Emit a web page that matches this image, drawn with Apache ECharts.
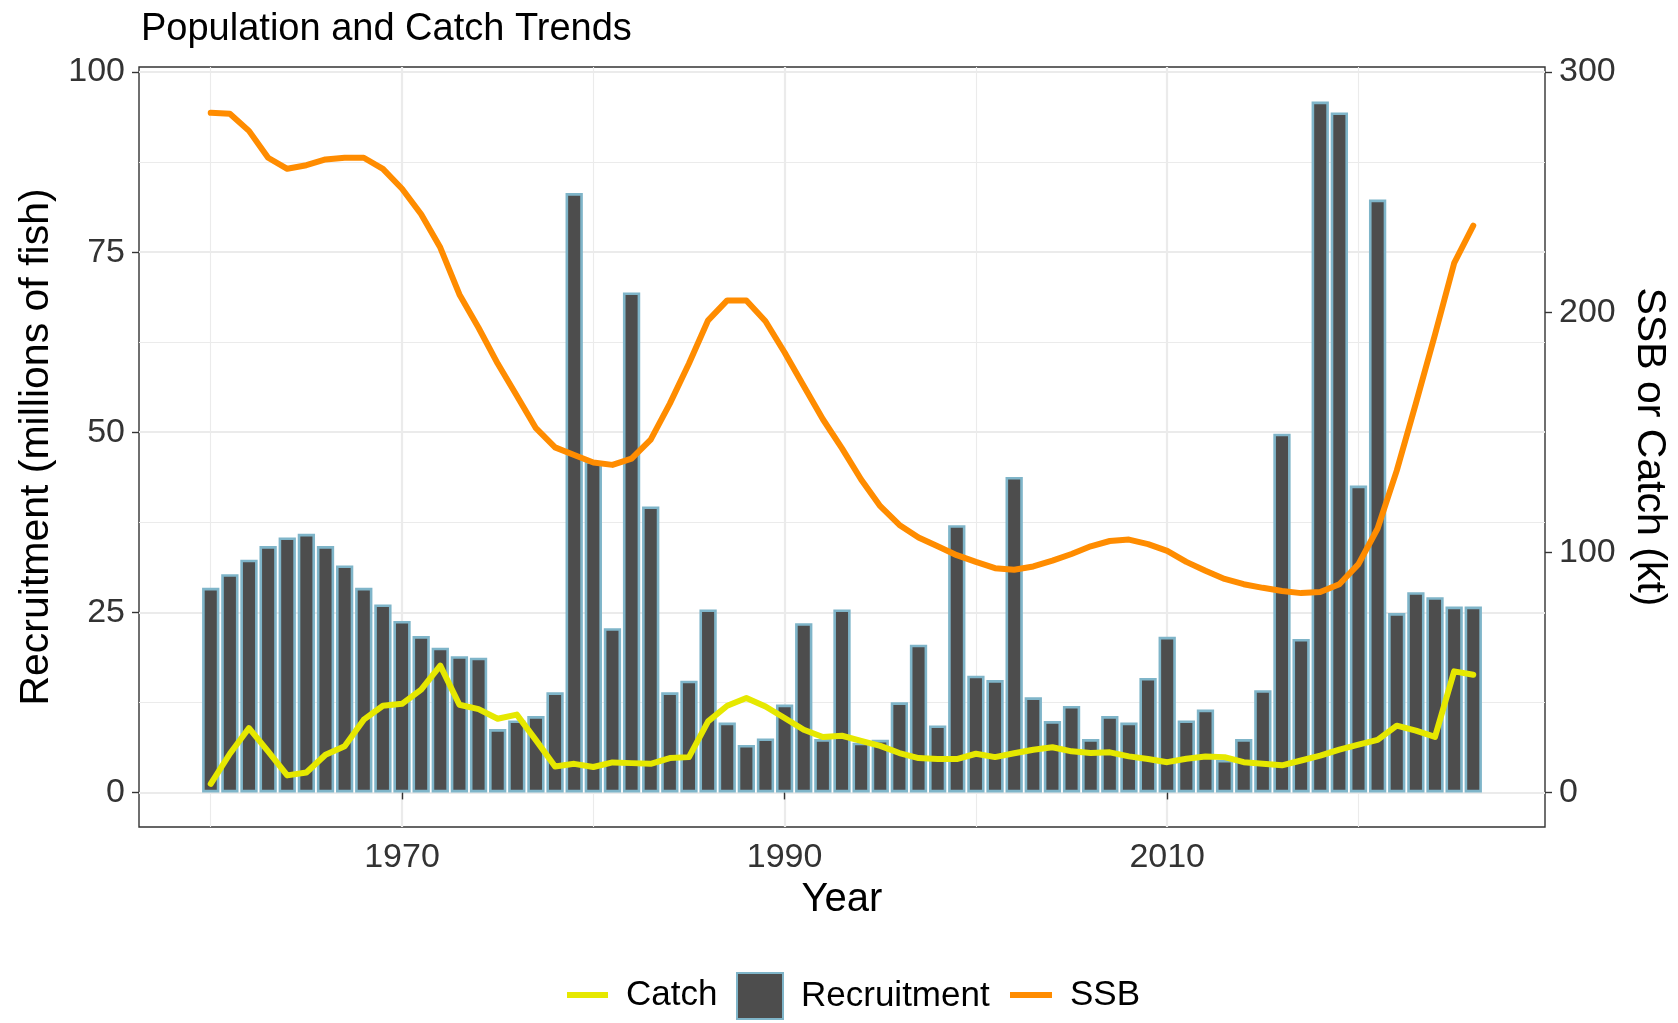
<!DOCTYPE html>
<html>
<head>
<meta charset="utf-8">
<title>Population and Catch Trends</title>
<script src="https://cdn.jsdelivr.net/npm/echarts@6.0.0/dist/echarts.min.js"></script>
<style>
    html, body { margin: 0; padding: 0; background: #fff; }
    #chart { width: 1678px; height: 1023px; }
</style>
</head>
<body>
<div id="chart"></div>
<script>
var years = [1960, 1961, 1962, 1963, 1964, 1965, 1966, 1967, 1968, 1969,
             1970, 1971, 1972, 1973, 1974, 1975, 1976, 1977, 1978, 1979,
             1980, 1981, 1982, 1983, 1984, 1985, 1986, 1987, 1988, 1989,
             1990, 1991, 1992, 1993, 1994, 1995, 1996, 1997, 1998, 1999,
             2000, 2001, 2002, 2003, 2004, 2005, 2006, 2007, 2008, 2009,
             2010, 2011, 2012, 2013, 2014, 2015, 2016, 2017, 2018, 2019,
             2020, 2021, 2022, 2023, 2024, 2025, 2026];

// millions of fish
var recruitment = [28.4, 30.3, 32.3, 34.2, 35.4, 35.9, 34.2, 31.5, 28.4, 26.1,
                   23.8, 21.7, 20.1, 18.9, 18.7, 8.8, 10.0, 10.6, 13.9, 83.2,
                   46.0, 22.8, 69.4, 39.7, 13.9, 15.5, 25.4, 9.7, 6.6, 7.5,
                   12.2, 23.5, 7.4, 25.4, 6.9, 7.3, 12.5, 20.5, 9.3, 37.1,
                   16.2, 15.6, 43.8, 13.2, 9.9, 12.0, 7.4, 10.6, 9.7, 15.9,
                   21.6, 10.0, 11.5, 4.5, 7.4, 14.2, 49.8, 21.3, 95.9, 94.4,
                   42.6, 82.3, 24.9, 27.8, 27.1, 25.8, 25.8];

// kt
var catchKt = [3.6, 16.1, 26.8, 17.1, 7.1, 8.3, 15.7, 19.2, 30.3, 36.1,
               36.9, 42.8, 52.8, 36.5, 34.7, 30.7, 32.4, 21.8, 10.8, 11.9,
               10.6, 12.5, 12.2, 11.9, 14.3, 14.7, 29.6, 36.1, 39.3, 35.8,
               31.0, 26.1, 23.1, 23.6, 21.5, 19.4, 16.4, 14.3, 13.9, 13.9,
               16.1, 14.7, 16.3, 17.8, 18.8, 17.1, 16.4, 16.7, 15.0, 13.9,
               12.6, 14.0, 15.0, 14.7, 12.6, 11.9, 11.3, 13.3, 15.3, 17.8,
               19.9, 21.9, 27.8, 25.7, 23.1, 50.4, 49.0];

// kt
var ssb = [283.0, 282.6, 275.5, 264.3, 259.7, 261.2, 263.6, 264.3, 264.3, 259.7,
           251.4, 240.8, 226.9, 207.4, 193.5, 178.6, 165.2, 151.7, 143.7, 140.5,
           137.4, 136.4, 139.0, 146.9, 161.9, 178.6, 196.6, 204.9, 204.9, 196.2,
           183.2, 169.3, 155.4, 143.3, 130.3, 119.2, 111.4, 106.2, 102.5, 98.8,
           96.0, 93.4, 92.7, 94.1, 96.5, 99.3, 102.5, 104.7, 105.3, 103.4,
           100.6, 96.0, 92.3, 88.9, 86.7, 85.2, 83.9, 83.0, 83.5, 86.7,
           95.1, 109.9, 134.0, 162.0, 190.7, 220.4, 236.0];

var xTicks = [1970, 1990, 2010];
var xMinorTicks = [1960, 1980, 2000, 2020];
var yTicks = [0, 25, 50, 75, 100];
var yMinorTicks = [12.5, 37.5, 62.5, 87.5];
var ktTicks = [0, 100, 200, 300];

var font = '"Liberation Sans", Arial, Helvetica, sans-serif';
var gridColor = '#EBEBEB';
var inkColor = '#333333';
var barFill = '#4D4D4D';
var barEdge = '#7FB5C9';
var ssbColor = '#FF8C00';
var catchColor = '#E6E800';

function pairs(values) {
    return years.map(function (y, i) { return [y, values[i]]; });
}

// hidden axis that only draws the thin minor grid lines
function minorAxis(min, max, ticks, pos) {
    return {
        type: 'value', min: min, max: max, position: pos,
        axisLine: { show: false },
        axisTick: { show: false, customValues: ticks },
        axisLabel: { show: false, customValues: ticks },
        splitLine: { show: true, lineStyle: { color: gridColor, width: 1.1 } }
    };
}

// one legend per key, ggplot draws lines and a filled box
// same line height everywhere so the keys share one centre line
function legendKey(name, left, w, h) {
    return {
        left: left,
        top: 967,
        itemWidth: w,
        itemHeight: h,
        icon: 'rect',
        textStyle: {
            fontFamily: font, fontSize: 35, color: '#000',
            lineHeight: 46, height: 46, padding: [0, 0, 0, 13]
        },
        data: [name]
    };
}

var myChart = echarts.init(document.getElementById('chart'));

var option = {
    backgroundColor: '#ffffff',
    animation: false,
    textStyle: { fontFamily: font },
    title: {
        text: 'Population and Catch Trends',
        left: 136,
        top: 6,
        textStyle: { fontFamily: font, fontSize: 38, fontWeight: 'normal', color: '#000' }
    },
    legend: [
        legendKey('Catch', 562, 41, 6),
        legendKey('Recruitment', 731, 46, 46),
        legendKey('SSB', 1005, 42, 6)
    ],
    grid: {
        left: 139,
        right: 130,
        top: 67,
        bottom: 196,
        show: true,
        borderColor: inkColor,
        borderWidth: 1.4,
        backgroundColor: '#fff'
    },
    xAxis: [
        {
            type: 'value', min: 1956.25, max: 2029.75, position: 'bottom',
            name: 'Year', nameLocation: 'middle', nameGap: 52,
            nameTextStyle: { fontFamily: font, fontSize: 40, color: '#000' },
            axisLine: { show: false },
            axisTick: { show: true, customValues: xTicks, length: 7, lineStyle: { color: inkColor, width: 1.4 } },
            axisLabel: {
                customValues: xTicks, margin: 14, fontSize: 34, color: inkColor, fontFamily: font,
                formatter: function (v) { return String(v); }
            },
            splitLine: { show: true, lineStyle: { color: gridColor, width: 2.2 } }
        },
        minorAxis(1956.25, 2029.75, xMinorTicks, 'bottom')
    ],
    yAxis: [
        {
            type: 'value', min: -4.8, max: 100.7, position: 'left',
            name: 'Recruitment (millions of fish)', nameLocation: 'middle', nameGap: 81, nameRotate: 90,
            nameTextStyle: { fontFamily: font, fontSize: 41, color: '#000' },
            axisLine: { show: false },
            axisTick: { show: true, customValues: yTicks, length: 7, lineStyle: { color: inkColor, width: 1.4 } },
            axisLabel: { customValues: yTicks, margin: 14, fontSize: 34, color: inkColor, fontFamily: font },
            splitLine: { show: true, lineStyle: { color: gridColor, width: 2.2 } }
        },
        {
            type: 'value', min: -14.4, max: 302.1, position: 'right',
            name: 'SSB or Catch (kt)', nameLocation: 'middle', nameGap: 84, nameRotate: -90,
            nameTextStyle: { fontFamily: font, fontSize: 41, color: '#000' },
            axisLine: { show: false },
            axisTick: { show: true, customValues: ktTicks, length: 7, lineStyle: { color: inkColor, width: 1.4 } },
            axisLabel: { customValues: ktTicks, margin: 14, fontSize: 34, color: inkColor, fontFamily: font },
            splitLine: { show: false }
        },
        minorAxis(-4.8, 100.7, yMinorTicks, 'left')
    ],
    series: [
        {
            name: 'Recruitment',
            type: 'bar',
            xAxisIndex: 0,
            yAxisIndex: 0,
            barWidth: 17.3,
            itemStyle: { color: barFill, borderColor: barEdge, borderWidth: 2.6 },
            data: pairs(recruitment),
            z: 2
        },
        {
            name: 'SSB',
            type: 'line',
            xAxisIndex: 0,
            yAxisIndex: 1,
            symbol: 'none',
            lineStyle: { color: ssbColor, width: 6, cap: 'round', join: 'round' },
            itemStyle: { color: ssbColor },
            data: pairs(ssb),
            z: 3
        },
        {
            name: 'Catch',
            type: 'line',
            xAxisIndex: 0,
            yAxisIndex: 1,
            symbol: 'none',
            lineStyle: { color: catchColor, width: 6, cap: 'round', join: 'round' },
            itemStyle: { color: catchColor },
            data: pairs(catchKt),
            z: 4
        }
    ]
};

myChart.setOption(option);
</script>
</body>
</html>
